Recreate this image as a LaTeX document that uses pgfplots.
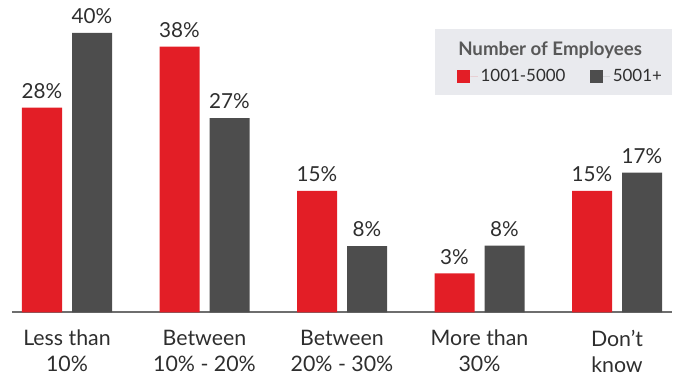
\documentclass[border=0pt]{standalone}
\usepackage{pgfplots}
\pgfplotsset{compat=1.18}
\usepackage{pgfplotstable}
\usepackage{fontspec}
\setmainfont{Lato}
\definecolor{cred}{HTML}{E31E26}
\definecolor{cgray}{HTML}{4D4D4D}
\definecolor{ctext}{HTML}{2E2E2E}
\definecolor{legbg}{HTML}{E9EAEE}
\definecolor{legtitle}{HTML}{585858}
\definecolor{axisline}{HTML}{6E6E6E}

\pgfplotstableread{
x a la b lb
0 28.5 28 40.0 40
1 37.9 38 26.9 27
2 15.7 15 7.2 8
3 3.0 3 7.3 8
4 15.7 15 18.5 17
}\datatable

\begin{document}
\begin{tikzpicture}
\def\px{0.75pt}
\fill[legbg] (434.7*\px, {(377-95)*\px}) rectangle (671.7*\px, {(377-29)*\px});
\node[anchor=base west, inner sep=0pt, text=legtitle, font=\bfseries\fontsize{14}{16}\selectfont] at (458*\px, {(377-56)*\px}) {Number of Employees};
\begin{axis}[
 at={(12*\px,64.5*\px)}, anchor=south west,
 scale only axis, width=495pt, height=234pt,
 xmin=-0.4, xmax=4.4, ymin=0, ymax=48,
 ybar, bar width=30pt,
 axis x line=bottom, axis y line=none,
 x axis line style={-, draw=axisline, line width=1.5pt},
 major tick length=0pt,
 y filter/.expression={y+3},
 point meta=explicit symbolic,
 nodes near coords={\pgfplotspointmeta\%},
 every node near coord/.append style={font=\fontsize{15.5}{18}\selectfont, text=ctext, anchor=south, inner sep=0pt, yshift=6.75pt},
 xtick={0,...,4},
 xticklabels={{Less than\\10\%},{Between\\10\% - 20\%},{Between\\20\% - 30\%},{More than\\30\%},{Don’t\\know}},
 xticklabel style={align=center, font=\fontsize{16}{19.5}\selectfont, text=ctext, inner sep=0pt, anchor=north, yshift=-13pt},
 legend style={at={(0.6747,0.758)}, anchor=west, draw=none, fill=none, inner sep=0pt, outer sep=0pt,
   font=\fontsize{12.7}{15}\selectfont, text=ctext, /tikz/every even column/.append style={column sep=16pt}},
 legend columns=2,
]
\addplot[fill=cred, draw=none, bar shift=-18.75pt, legend image code/.code={\fill[cred] (0pt,-4.875pt) rectangle (9.75pt,4.875pt); \path (9.75pt,0pt) -- (15.5pt,0pt);}] table[x=x, y=a, meta=la] {\datatable};
\addlegendentry{1001-5000}
\addplot[fill=cgray, draw=none, bar shift=18.75pt, legend image code/.code={\fill[cgray] (0pt,-4.875pt) rectangle (9.75pt,4.875pt); \path (9.75pt,0pt) -- (15.5pt,0pt);}] table[x=x, y=b, meta=lb] {\datatable};
\addlegendentry{5001+}
\end{axis}
\pgfresetboundingbox
\useasboundingbox (0,0) rectangle (678*\px, 377*\px);
\end{tikzpicture}
\end{document}
